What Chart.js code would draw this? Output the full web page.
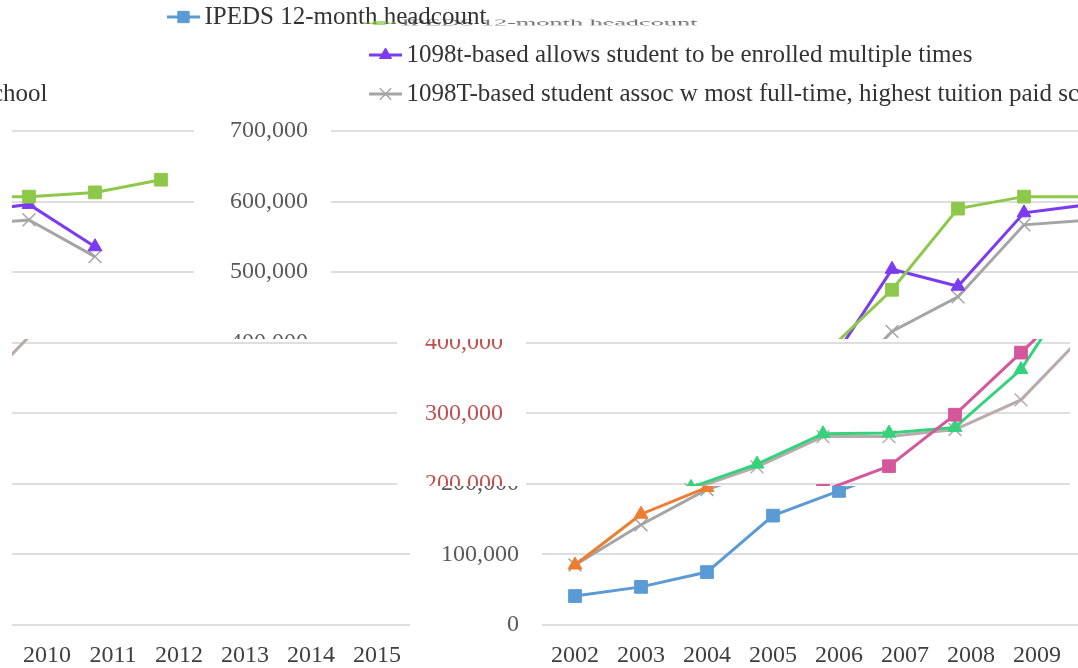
<!DOCTYPE html>
<html>
<head>
<meta charset="utf-8">
<script src="https://cdn.jsdelivr.net/npm/chart.js@4.4.1/dist/chart.umd.min.js"></script>
<style>
  html, body { margin: 0; padding: 0; background: #fff; overflow: hidden; }
  #page { position: relative; width: 1078px; height: 668px; overflow: hidden; background: #fff; }
  .tile { position: absolute; overflow: hidden; }
  .tile canvas { position: absolute; }
</style>
</head>
<body>
<div id="page"></div>
<script>
var years = ['2002', '2003', '2004', '2005', '2006', '2007', '2008', '2009', '2010', '2011', '2012', '2013', '2014', '2015']
var ipeds = [41000, 54000, 75000, 155000, 190000, 225000, 298000, 386000, 475000, 590000, 607000, 607000, 613000, 631000]
var multi = [85000, 157000, 195000, 228000, 271000, 272000, 280000, 362000, 504000, 480000, 584000, 596000, 536000, null]
var assoc = [85000, 142000, 192000, 224000, 267000, 267000, 277000, 319000, 416000, 465000, 567000, 574000, 522000, null]
var yTicks = [0, 100000, 200000, 300000, 400000, 500000, 600000, 700000]
var seriesNames = [
  'IPEDS 12-month headcount',
  '1098t-based allows student to be enrolled multiple times',
  '1098T-based student assoc w most full-time, highest tuition paid school'
]

// the picture is one chart cut in bands, each band with its own colours
var palTop = { sq: '#8DC84A', tri: '#7B3CF0', x: '#A5A5A5', tick: '#595959' }
var palMid = { sq: '#D5579B', tri: '#35D27C', x: '#B9ABAB', tick: '#C0504D' }
var palLow = { sq: '#5B9BD5', tri: '#ED7D31', x: '#A5A5A5', tick: '#595959' }

var serif = "'Liberation Serif', 'Times New Roman', serif"
Chart.defaults.font.family = serif
var page = document.getElementById('page')

function addTile(x, y, w, h) {
  var d = document.createElement('div')
  d.className = 'tile'
  d.style.left = x + 'px'
  d.style.top = y + 'px'
  d.style.width = w + 'px'
  d.style.height = h + 'px'
  page.appendChild(d)
  return d
}

function addCanvas(parent, w, h) {
  var c = document.createElement('canvas')
  c.width = w
  c.height = h
  c.style.width = w + 'px'
  c.style.height = h + 'px'
  parent.appendChild(c)
  return c
}

function makeSets(pal, withData) {
  var sets = [[ipeds, pal.sq, 'rect', 9], [multi, pal.tri, 'triangle', 8], [assoc, pal.x, 'crossRot', 9]]
  return sets.map(function (s, i) {
    return {
      label: seriesNames[i],
      data: withData ? s[0] : [],
      borderColor: s[1],
      backgroundColor: s[1],
      pointBackgroundColor: s[1],
      pointBorderColor: s[1],
      pointStyle: s[2],
      pointRadius: s[3],
      pointBorderWidth: s[2] == 'crossRot' ? 1.5 : 1,
      borderWidth: 3,
      tension: 0,
      fill: false
    }
  })
}

function plotTile(x, y, w, h, shift, pal) {
  var c = addCanvas(addTile(x, y, w, h), 1500, 668)
  c.style.left = (-shift - x) + 'px'
  c.style.top = (-y) + 'px'
  new Chart(c, {
    type: 'line',
    data: { labels: years, datasets: makeSets(pal, true) },
    options: {
      responsive: false,
      animation: false,
      events: [],
      layout: { padding: { left: 0, right: 34, top: 131, bottom: 0 } },
      plugins: { legend: { display: false }, tooltip: { enabled: false } },
      scales: {
        x: {
          offset: true,
          grid: { display: false },
          border: { display: false },
          ticks: { color: '#404040', font: { size: 24 }, padding: 8, maxRotation: 0, autoSkip: false },
          afterFit: function (s) { s.height = 43 }
        },
        y: {
          min: 0,
          max: 700000,
          grid: { color: '#DEDEDE', lineWidth: 2, drawTicks: false },
          border: { display: false },
          ticks: {
            color: pal.tick,
            font: { size: 24 },
            padding: 23,
            callback: function (v) { return Number(v).toLocaleString('en-US') }
          },
          afterBuildTicks: function (s) { s.ticks = yTicks.map(function (v) { return { value: v } }) },
          afterFit: function (s) { s.width = 542 }
        }
      }
    }
  })
}

// line + marker in front of each legend text
var legendMarks = {
  id: 'legendMarks',
  afterDraw: function (chart) {
    var ctx = chart.ctx
    var boxes = chart.legend.legendHitBoxes
    chart.legend.legendItems.forEach(function (item, i) {
      var ds = chart.data.datasets[item.datasetIndex]
      var b = boxes[i]
      var cy = b.top + b.height / 2
      ctx.save()
      ctx.strokeStyle = ds.borderColor
      ctx.fillStyle = ds.borderColor
      ctx.lineWidth = 3
      ctx.beginPath()
      ctx.moveTo(b.left, cy)
      ctx.lineTo(b.left + 33, cy)
      ctx.stroke()
      ctx.lineWidth = ds.pointBorderWidth
      Chart.helpers.drawPoint(ctx, { pointStyle: ds.pointStyle, rotation: 0, radius: ds.pointRadius - 1, borderWidth: ds.pointBorderWidth }, b.left + 16.5, cy)
      ctx.restore()
    })
  }
}

function legendTile(x, y, w, h, idx, pal, textX, midY, squash) {
  var d = addTile(x, y, w, h)
  var c = addCanvas(d, 1400, 100)
  var chart = new Chart(c, {
    type: 'line',
    data: { labels: years, datasets: makeSets(pal, false) },
    options: {
      responsive: false,
      animation: false,
      events: [],
      layout: { padding: 0 },
      scales: { x: { display: false }, y: { display: false } },
      plugins: {
        tooltip: { enabled: false },
        legend: {
          position: 'top',
          align: 'start',
          labels: {
            boxWidth: 25,
            boxHeight: 40,
            padding: 10,
            color: '#333333',
            font: { size: 25 },
            filter: function (item) { return item.datasetIndex === idx },
            generateLabels: function (ch) {
              return ch.data.datasets.map(function (ds, i) {
                return { text: ds.label, fillStyle: 'rgba(0,0,0,0)', strokeStyle: 'rgba(0,0,0,0)', lineWidth: 0, hidden: false, datasetIndex: i, fontColor: '#333333' }
              })
            }
          }
        }
      }
    },
    plugins: [legendMarks]
  })
  var b = chart.legend.legendHitBoxes[0]
  var tx = b.left + 25 + 12.5
  var cy = b.top + b.height / 2
  if (typeof textX === 'function') textX = textX(chart)
  c.style.left = Math.round(textX - tx - x) + 'px'
  c.style.top = Math.round(midY - cy - y) + 'px'
  if (squash) {
    c.style.transformOrigin = b.left + 'px ' + cy + 'px'
    c.style.transform = squash
    c.style.opacity = 0.7
  }
}

// plot bands: x, y, width, height, horizontal shift, colours
plotTile(12, 0, 193, 339, 1272, palTop)
plotTile(205, 0, 873, 339, 211, palTop)
plotTile(12, 339, 393, 149, 1069, palMid)
plotTile(405, 339, 665, 147, 16, palMid)
plotTile(12, 488, 408, 180, 1056, palLow)
plotTile(420, 486, 658, 182, 0, palLow)

// legend rows
legendTile(150, 0, 350, 27, 0, palLow, 204, 17)
legendTile(355, 16, 360, 13, 0, palTop, 399.5, 23, 'scale(1.05, 0.35)')
legendTile(355, 36, 723, 38, 1, palTop, 406, 55)
legendTile(355, 75, 723, 40, 2, palTop, 406, 94)
legendTile(0, 75, 120, 40, 2, palTop, function (chart) {
  var ctx = chart.ctx
  ctx.save()
  ctx.font = '25px ' + serif
  var w = ctx.measureText(seriesNames[2].slice(0, -4)).width
  ctx.restore()
  return 3 - w
}, 94)
</script>
</body>
</html>
